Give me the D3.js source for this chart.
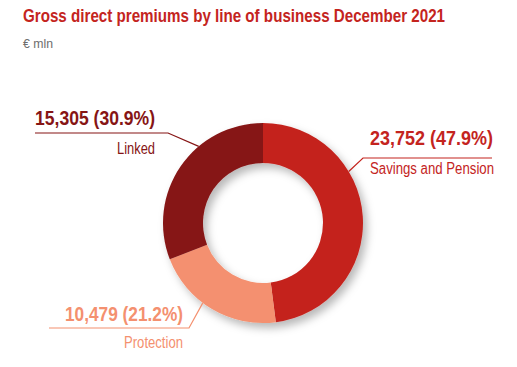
<!DOCTYPE html>
<meta charset="utf-8">
<head>
  <title>Gross direct premiums</title>
</head>
<style>
body {
  margin: 0;
  background: #fff;
  font-family: "Liberation Sans", Arial, sans-serif;
}
</style>
<body>
<svg id="chart" width="517" height="367"></svg>
<script src="https://cdnjs.cloudflare.com/ajax/libs/d3/7.8.5/d3.min.js"></script>
<script>
// data
var categories = ["Savings and Pension", "Protection", "Linked"];
var values = [23752, 10479, 15305];
var shares = [47.9, 21.2, 30.9];
var colors = ["#c4241e", "#f4906f", "#861515"];

var width = 517, height = 367;
var cx = 263, cy = 223, outerR = 100, innerR = 60;

var svg = d3.select("#chart");

// drop shadow
var defs = svg.append("defs");
var f = defs.append("filter").attr("id", "shadow")
  .attr("x", "-20%").attr("y", "-20%").attr("width", "150%").attr("height", "150%");
f.append("feDropShadow")
  .attr("dx", 4).attr("dy", 5)
  .attr("stdDeviation", 4)
  .attr("flood-color", "#000")
  .attr("flood-opacity", 0.28);

// condensed look: squeeze text to the reference widths
function narrow(sel, w) {
  sel.attr("textLength", w).attr("lengthAdjust", "spacingAndGlyphs");
  return sel;
}

narrow(svg.append("text")
  .attr("x", 23).attr("y", 22)
  .style("font-size", "17.5px")
  .style("font-weight", "bold")
  .style("fill", "#c4241e")
  .text("Gross direct premiums by line of business December 2021"), 422);

narrow(svg.append("text")
  .attr("x", 23).attr("y", 48)
  .style("font-size", "13px")
  .style("fill", "#6d6d6d")
  .text("€ mln"), 30);

var pie = d3.pie().sort(null).value(function(d) { return d; });
var arcs = pie(values);
var arc = d3.arc().innerRadius(innerR).outerRadius(outerR);

var g = svg.append("g")
  .attr("transform", "translate(" + cx + "," + cy + ")");

g.append("g")
  .attr("filter", "url(#shadow)")
  .selectAll("path")
  .data(arcs)
  .enter().append("path")
  .attr("d", arc)
  .attr("fill", function(d, i) { return colors[i]; });

// label layout: anchor angle on the ring (deg), elbow, text side, widths
var labels = [
  { angle: 59, elbow: [363, 158], lineEnd: 492, tx: 370, anchor: "start", vy: 145, ny: 174, vw: 123, nw: 124 },
  { angle: 217, elbow: [189, 328], lineEnd: 49, tx: 183, anchor: "end", vy: 321, ny: 347.5, vw: 118, nw: 59 },
  { angle: 320, elbow: [168, 133], lineEnd: 35, tx: 155, anchor: "end", vy: 125, ny: 153.5, vw: 120, nw: 38 }
];

var fmt = d3.format(",");

labels.forEach(function(l, i) {
  var a = l.angle * Math.PI / 180;
  var px = cx + outerR * Math.sin(a),
      py = cy - outerR * Math.cos(a);
  svg.append("polyline")
    .attr("points", [[px, py], l.elbow, [l.lineEnd, l.elbow[1]]].map(function(p) { return p.join(","); }).join(" "))
    .attr("fill", "none")
    .attr("stroke", colors[i])
    .attr("stroke-width", 1.2);
  narrow(svg.append("text")
    .attr("x", l.tx).attr("y", l.vy)
    .attr("text-anchor", l.anchor)
    .style("font-size", "19.5px")
    .style("font-weight", "bold")
    .style("fill", colors[i])
    .text(fmt(values[i]) + " (" + shares[i].toFixed(1) + "%)"), l.vw);
  narrow(svg.append("text")
    .attr("x", l.tx).attr("y", l.ny)
    .attr("text-anchor", l.anchor)
    .style("font-size", "16px")
    .style("fill", colors[i])
    .text(categories[i]), l.nw);
});
</script>
</body>
